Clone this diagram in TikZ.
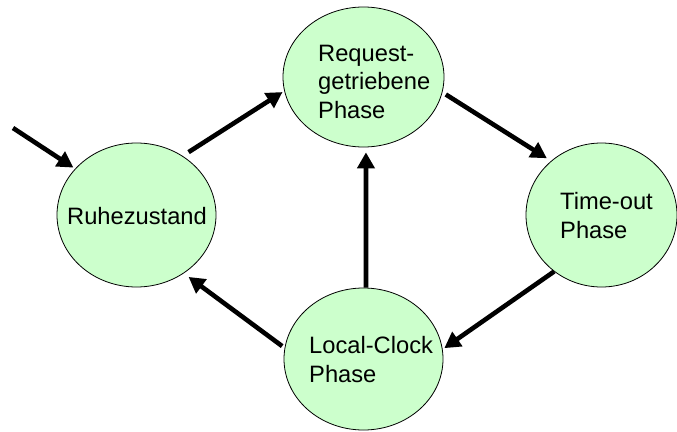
\documentclass[tikz,border=0pt]{standalone}
\usepackage{fontspec}
\setmainfont{Liberation Sans}
\usetikzlibrary{arrows.meta,shapes.geometric,calc}
\definecolor{stategreen}{HTML}{CCFFCC}
\begin{document}
\begin{tikzpicture}[x=1pt,y=-1pt,
  state/.style={ellipse, draw=black, line width=0.8pt, fill=stategreen, inner sep=0pt},
  lbl/.style={anchor=base west, inner sep=0pt, align=left,
    font=\fontsize{23.7}{28.5}\selectfont},
  arr/.style={line width=4.6pt, -{Triangle[length=16pt,width=17pt]}}]
\useasboundingbox (0,0) rectangle (677,431);

% states
\node[state, minimum width=159pt, minimum height=144pt] (ruhe)  at (136.5,215) {};
\node[state, minimum width=161pt, minimum height=140pt] (req)   at (363.5,77)  {};
\node[state, minimum width=151pt, minimum height=144pt] (time)  at (601.5,215) {};
\node[state, minimum width=159pt, minimum height=142pt] (local) at (363.5,359) {};

% state names (anchored at the baseline of the last line)
\node[lbl] (ruhe-t)  at ($(ruhe)+(-69.5,9)$)   {Ruhezustand};
\node[lbl] (req-t)   at ($(req)+(-45.5,41)$)   {Request-\\getriebene\\Phase};
\node[lbl] (time-t)  at ($(time)+(-41.5,23)$)  {Time-out\\Phase};
\node[lbl] (local-t) at ($(local)+(-54.5,23)$) {Local-Clock\\Phase};

% transitions
\coordinate (start) at (13,128);
\draw[arr, shorten >=2pt] (start) -- (ruhe.143.5);
\draw[arr, shorten <=7pt, shorten >=2pt] (ruhe.52.7) -- (req.190.6);
\draw[arr, shorten <=4pt, shorten >=5pt] (req.-11) -- (time.133.2);
\draw[arr, shorten >=2pt] (time.230.8) -- (local.7.8);
\draw[arr, shorten >=5pt] (local.88) -- (req.-88);
\draw[arr, shorten <=3pt, shorten >=6pt] (local.172.3) -- (ruhe.-51.3);
\end{tikzpicture}
\end{document}
